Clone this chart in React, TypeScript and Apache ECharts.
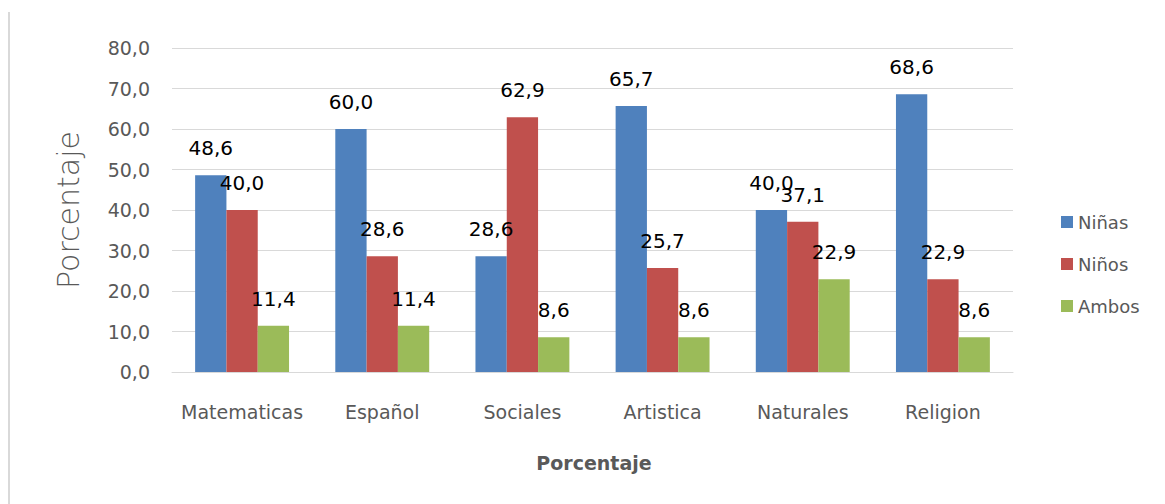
import React, { useEffect, useRef } from "react";
import * as echarts from "echarts";

const categories = ["Matematicas", "Español", "Sociales", "Artistica", "Naturales", "Religion"];
const ninas = [48.6, 60.0, 28.6, 65.7, 40.0, 68.6];
const ninos = [40.0, 28.6, 62.9, 25.7, 37.1, 22.9];
const ambos = [11.4, 11.4, 8.6, 8.6, 22.9, 8.6];
const seriesNames = ["Niñas", "Niños", "Ambos"];
const colors = ["#4F81BD", "#C0504D", "#9BBB59"];

const FONT = "'DejaVu Sans', sans-serif";
const fmt = (v: number) => v.toFixed(1).replace(".", ",");

export default function App() {
  const ref = useRef<HTMLDivElement>(null);
  useEffect(() => {
    if (!ref.current) return;
    const chart = echarts.init(ref.current, undefined, { renderer: "svg" });
    const mk = (name: string, data: number[], color: string) => ({
      name,
      type: "bar",
      data,
      barGap: "0%",
      barCategoryGap: "33%",
      itemStyle: { color },
      label: {
        show: true,
        position: "top",
        distance: 17,
        formatter: (p: any) => fmt(p.value),
        color: "#000",
        fontSize: 20,
        fontFamily: FONT,
      },
    });
    chart.setOption({
      animation: false,
      backgroundColor: "#fff",
      textStyle: { fontFamily: FONT },
      grid: { left: 172, right: 152, top: 48, bottom: 132 },
      legend: {
        orient: "vertical",
        left: 1056,
        top: 208,
        itemWidth: 12,
        itemHeight: 12,
        itemGap: 24,
        icon: "rect",
        textStyle: { fontSize: 18, color: "#595959", fontFamily: FONT },
        data: seriesNames,
      },
      xAxis: {
        type: "category",
        data: categories,
        axisLine: { lineStyle: { color: "#d9d9d9" } },
        axisTick: { show: false },
        axisLabel: { color: "#595959", fontSize: 19, margin: 30, interval: 0, fontFamily: FONT },
      },
      yAxis: {
        type: "value",
        min: 0,
        max: 80,
        interval: 10,
        axisLine: { show: false },
        axisTick: { show: false },
        splitLine: { lineStyle: { color: "#d9d9d9" } },
        axisLabel: {
          color: "#595959",
          fontSize: 19,
          margin: 22,
          fontFamily: FONT,
          formatter: (v: number) => fmt(v),
        },
      },
      graphic: [
        {
          type: "line",
          shape: { x1: 9, y1: 12, x2: 9, y2: 504 },
          style: { stroke: "#d9d9d9", lineWidth: 2 },
        },
        {
          type: "text",
          x: 68,
          y: 210,
          rotation: Math.PI / 2,
          style: {
            text: "Porcentaje",
            fontSize: 30,
            fontWeight: 200,
            fill: "#595959",
            fontFamily: FONT,
            align: "center",
            verticalAlign: "middle",
          },
        },
        {
          type: "text",
          x: 594,
          y: 463,
          style: {
            text: "Porcentaje",
            fontSize: 19,
            fontWeight: "bold",
            fill: "#595959",
            fontFamily: FONT,
            align: "center",
            verticalAlign: "middle",
          },
        },
      ],
      series: [mk(seriesNames[0], ninas, colors[0]), mk(seriesNames[1], ninos, colors[1]), mk(seriesNames[2], ambos, colors[2])],
    });
    return () => chart.dispose();
  }, []);
  return <div ref={ref} style={{ position: "fixed", left: 0, top: 0, width: 1165, height: 504 }} />;
}
